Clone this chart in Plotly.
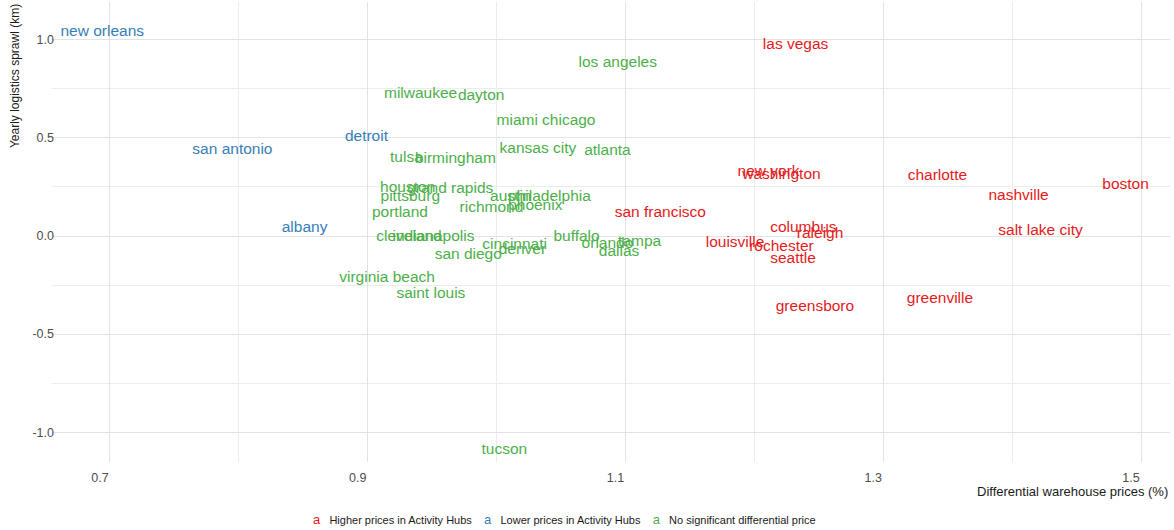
import plotly.graph_objects as go

cities = ["new orleans", "san antonio", "detroit", "albany",
          "las vegas", "new york", "washington", "charlotte", "boston", "nashville",
          "san francisco", "columbus", "raleigh", "salt lake city", "louisville",
          "rochester", "seattle", "greenville", "greensboro",
          "los angeles", "milwaukee", "dayton", "miami", "chicago", "kansas city",
          "atlanta", "tulsa", "birmingham", "houston", "grand rapids", "pittsburg",
          "austin", "philadelphia", "phoenix", "richmond", "portland", "cleveland",
          "indianapolis", "buffalo", "tampa", "orlando", "cincinnati", "denver",
          "dallas", "san diego", "virginia beach", "saint louis", "tucson"]
price_diff = [0.694, 0.795, 0.899, 0.851,
              1.232, 1.211, 1.221, 1.342, 1.488, 1.405,
              1.127, 1.238, 1.251, 1.422, 1.185,
              1.221, 1.230, 1.344, 1.247,
              1.094, 0.941, 0.988, 1.016, 1.056, 1.032,
              1.086, 0.930, 0.968, 0.931, 0.964, 0.933,
              1.011, 1.041, 1.030, 0.996, 0.925, 0.932,
              0.951, 1.062, 1.111, 1.086, 1.014, 1.020,
              1.095, 0.978, 0.915, 0.949, 1.006]
sprawl = [1.04, 0.437, 0.503, 0.041,
          0.975, 0.325, 0.310, 0.305, 0.259, 0.203,
          0.117, 0.041, 0.010, 0.025, -0.036,
          -0.056, -0.117, -0.320, -0.365,
          0.883, 0.721, 0.711, 0.584, 0.584, 0.442,
          0.431, 0.396, 0.391, 0.244, 0.239, 0.198,
          0.198, 0.198, 0.152, 0.142, 0.117, -0.005,
          -0.005, -0.005, -0.030, -0.041, -0.046, -0.071,
          -0.081, -0.096, -0.213, -0.294, -1.091]
group = (["Lower"] * 4 + ["Higher"] * 15 + ["None"] * 29)

categories = ["Higher", "Lower", "None"]
category_labels = ["Higher prices in Activity Hubs", "Lower prices in Activity Hubs",
                   "No significant differential price"]
colors = {"Higher": "#E41A1C", "Lower": "#377EB8", "None": "#4DAF4A"}

x_tickvals = [0.7, 0.9, 1.1, 1.3, 1.5]
x_ticktext = ["0.7", "0.9", "1.1", "1.3", "1.5"]
y_tickvals = [-1.0, -0.5, 0.0, 0.5, 1.0]
y_ticktext = ["-1.0", "-0.5", "0.0", "0.5", "1.0"]

FONT = "Liberation Sans, Arial, sans-serif"

fig = go.Figure()
for cat in categories:
    idx = [i for i, g in enumerate(group) if g == cat]
    fig.add_trace(go.Scatter(
        x=[price_diff[i] for i in idx],
        y=[sprawl[i] for i in idx],
        text=[cities[i] for i in idx],
        mode="text",
        textposition="middle center",
        textfont=dict(family=FONT, size=15.5, color=colors[cat]),
        showlegend=False,
        hoverinfo="text",
    ))

legend_parts = []
for cat, lab in zip(categories, category_labels):
    legend_parts.append(f"<span style='color:{colors[cat]};font-size:13px'>a</span>&nbsp;&nbsp;&nbsp;{lab}")
fig.add_annotation(text="&nbsp;&nbsp;&nbsp;&nbsp;".join(legend_parts), xref="paper", yref="paper",
                   x=0.458, y=-0.124, xanchor="center", yanchor="middle", showarrow=False,
                   font=dict(family=FONT, size=11, color="#1a1a1a"))
fig.add_annotation(text="Differential warehouse prices (%)", xref="paper", yref="paper",
                   x=1.0, y=-0.065, xanchor="right", yanchor="middle", showarrow=False,
                   font=dict(family=FONT, size=13, color="#1a1a1a"))
fig.add_annotation(text="Yearly logistics sprawl (km)", xref="paper", yref="paper",
                   x=-0.033, y=1.0, xanchor="center", yanchor="top", textangle=-90, showarrow=False,
                   font=dict(family=FONT, size=12, color="#1a1a1a"))

axis_font = dict(family=FONT, size=12.5, color="#4d4d4d")
fig.update_xaxes(range=[0.655, 1.5225], tickvals=x_tickvals, ticktext=x_ticktext,
                 showgrid=True, gridcolor="#e3e3e3", gridwidth=1, zeroline=False,
                 showline=False, ticks="", tickfont=axis_font, automargin=False,
                 ticklabelshift=-10, ticklabelstandoff=6,
                 minor=dict(dtick=0.1, tick0=0.7, showgrid=True, gridcolor="#ececec", gridwidth=0.7))
fig.update_yaxes(range=[-1.152, 1.193], tickvals=y_tickvals, ticktext=y_ticktext,
                 showgrid=True, gridcolor="#e3e3e3", gridwidth=1, zeroline=False,
                 showline=False, ticks="", tickfont=axis_font, automargin=False,
                 ticklabelstandoff=-3,
                 minor=dict(dtick=0.25, tick0=0, showgrid=True, gridcolor="#ececec", gridwidth=0.7))
fig.update_layout(width=1174, height=530, plot_bgcolor="white", paper_bgcolor="white",
                  margin=dict(l=52, r=4, t=2, b=68, autoexpand=False), showlegend=False)
fig.write_html("out.html", config={"displayModeBar": False},
               post_script="document.body.style.margin='0';document.body.style.padding='0';")
